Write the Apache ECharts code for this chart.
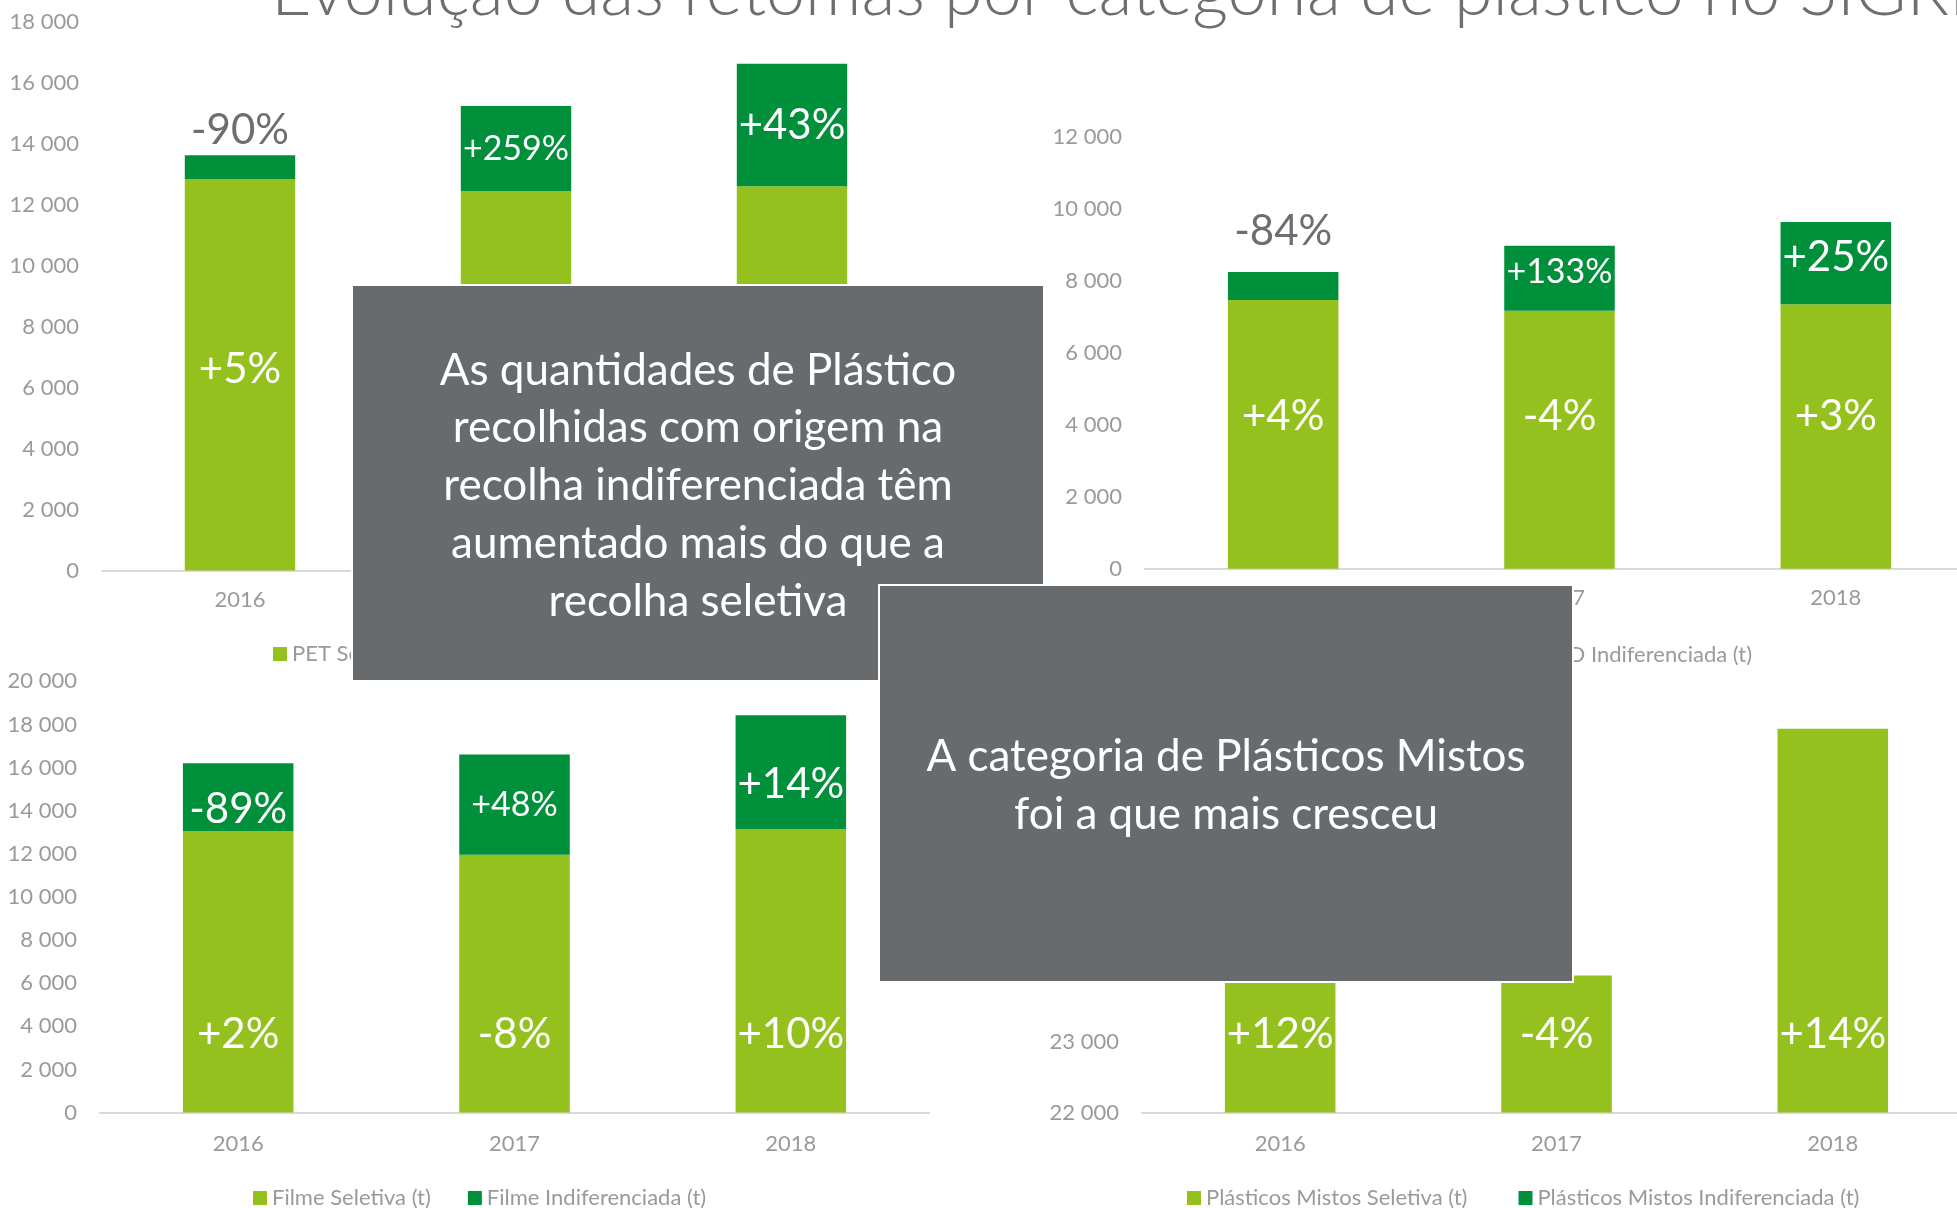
<!DOCTYPE html>
<html>
<head>
<meta charset="utf-8">
<title>Evolução das retomas por categoria de plástico</title>
<script src="https://cdn.jsdelivr.net/npm/echarts@6/dist/echarts.min.js"></script>
<style>
  html, body { margin: 0; padding: 0; background: #fff; overflow: hidden; }
  /* um pouco mais largo que a janela: o grafico da direita passa a borda */
  #main { width: 1990px; height: 1208px; }
</style>
</head>
<body>
<div id="main"></div>
<script>
// anos (eixo x)
var years = ['2016', '2017', '2018'];

// quantidades (t)
var petSel = [12850, 12450, 12610];
var petInd = [775, 2795, 4020];
var peadSel = [7470, 7170, 7350];
var peadInd = [775, 1810, 2285];
var filmeSel = [13050, 11960, 13150];
var filmeInd = [3150, 4650, 5280];
var mistosSel = [24900, 23930, 27400];
var mistosInd = [0, 0, 0];   // nao se ve no grafico

// variacoes (rotulos)
var petSelPct = ['+5%', '-3%', '+1%'];
var petIndPct = ['-90%', '+259%', '+43%'];
var peadSelPct = ['+4%', '-4%', '+3%'];
var peadIndPct = ['-84%', '+133%', '+25%'];
var filmeSelPct = ['+2%', '-8%', '+10%'];
var filmeIndPct = ['-89%', '+48%', '+14%'];
var mistosSelPct = ['+12%', '-4%', '+14%'];
var mistosIndPct = ['', '', ''];

// eixos y
var yTicks = [
    {min: 0, max: 18000, interval: 2000},
    {min: 0, max: 12000, interval: 2000},
    {min: 0, max: 20000, interval: 2000},
    {min: 22000, max: 28000, interval: 1000}
];

var LIGHT = '#95C11F';
var DARK = '#008F3B';
var GREY = '#9A9A9A';
var FONT = 'Lato, "Open Sans", sans-serif';

var chart = echarts.init(document.getElementById('main'));

function fmt(v) {
    return String(v).replace(/\B(?=(\d{3})+(?!\d))/g, ' ');
}

// cria os dados com rotulos por ponto
function items(values, labels, opts) {
    opts = opts || {};
    return values.map(function (v, i) {
        var lab = {formatter: labels[i]};
        if (opts.small && opts.small.indexOf(i) >= 0) {
            lab.fontSize = 34;
            lab.lineHeight = 34;
        }
        if (opts.outside && opts.outside.indexOf(i) >= 0) {
            lab.position = 'top';
            lab.distance = opts.outDist || 4;
            lab.color = '#6D6E71';
        }
        if (opts.shift && opts.shift.indexOf(i) >= 0) {
            lab.offset = [0, opts.shiftBy];
        }
        return {value: v, label: lab};
    });
}

function selSeries(name, idx, values, labels, dist) {
    return {
        name: name, type: 'bar', stack: 's' + idx,
        xAxisIndex: idx, yAxisIndex: idx,
        barWidth: '40%',
        itemStyle: {color: LIGHT},
        label: {
            show: true, position: 'insideBottom', distance: dist,
            color: '#fff', fontSize: 42, lineHeight: 42, fontFamily: FONT
        },
        data: items(values, labels)
    };
}

function indSeries(name, idx, values, labels, opts) {
    return {
        name: name, type: 'bar', stack: 's' + idx,
        xAxisIndex: idx, yAxisIndex: idx,
        barWidth: '40%',
        itemStyle: {color: DARK},
        label: {
            show: true, position: 'inside',
            color: '#fff', fontSize: 42, lineHeight: 42, fontFamily: FONT
        },
        data: items(values, labels, opts)
    };
}

var grids = [
    {left: 102, top: 22, width: 828, height: 548.5},
    {left: 1145, top: 137, width: 829, height: 431.8},
    {left: 100, top: 681.3, width: 829, height: 431.3},
    {left: 1142, top: 686, width: 829, height: 426.6}
];

function legend(pos, names, gap) {
    return Object.assign({
        data: names,
        itemWidth: 14, itemHeight: 14, itemGap: gap, icon: 'rect',
        textStyle: {color: GREY, fontSize: 22, fontFamily: FONT},
        selectedMode: false
    }, pos);
}

var option = {
    animation: false,
    backgroundColor: '#fff',
    grid: grids,
    xAxis: grids.map(function (g, i) {
        return {
            type: 'category', gridIndex: i, data: years,
            axisLine: {lineStyle: {color: '#D9D9D9', width: 2}},
            axisTick: {show: false},
            axisLabel: {color: GREY, fontSize: 22, fontFamily: FONT, margin: i < 2 ? 18 : 20}
        };
    }),
    yAxis: yTicks.map(function (t, i) {
        return {
            type: 'value', gridIndex: i, min: t.min, max: t.max, interval: t.interval,
            axisLine: {show: false}, axisTick: {show: false},
            splitLine: {show: false},
            axisLabel: {color: GREY, fontSize: 22, fontFamily: FONT, margin: 23, formatter: fmt}
        };
    }),
    legend: [
        legend({left: 268, top: 638}, ['PET Seletiva (t)', 'PET Indiferenciada (t)'], 40),
        legend({right: 233, top: 639}, ['PEAD Seletiva (t)', 'PEAD Indiferenciada (t)'], 40),
        legend({left: 248, top: 1182}, ['Filme Seletiva (t)', 'Filme Indiferenciada (t)'], 37),
        legend({left: 1182, top: 1182}, ['Plásticos Mistos Seletiva (t)', 'Plásticos Mistos Indiferenciada (t)'], 51)
    ],
    series: [
        selSeries('PET Seletiva (t)', 0, petSel, petSelPct, 180),
        indSeries('PET Indiferenciada (t)', 0, petInd, petIndPct, {small: [1], outside: [0], outDist: 4}),
        selSeries('PEAD Seletiva (t)', 1, peadSel, peadSelPct, 131),
        indSeries('PEAD Indiferenciada (t)', 1, peadInd, peadIndPct, {small: [1], outside: [0], outDist: 20, shift: [1, 2], shiftBy: -6}),
        selSeries('Filme Seletiva (t)', 2, filmeSel, filmeSelPct, 57),
        indSeries('Filme Indiferenciada (t)', 2, filmeInd, filmeIndPct, {small: [1], shift: [0, 2], shiftBy: 12}),
        selSeries('Plásticos Mistos Seletiva (t)', 3, mistosSel, mistosSelPct, 57),
        indSeries('Plásticos Mistos Indiferenciada (t)', 3, mistosInd, mistosIndPct)
    ],
    graphic: [
        {
            type: 'text', z: 100, left: 271, top: -43,
            style: {
                text: 'Evolução das retomas por categoria de plástico no SIGRE',
                fill: '#6D6E71', font: '300 70px ' + FONT
            }
        },
        {
            type: 'group', z: 100, left: 351, top: 284,
            children: [
                {
                    type: 'rect', z: 100,
                    shape: {x: 0, y: 0, width: 692, height: 396},
                    style: {fill: '#676B6E', stroke: '#fff', lineWidth: 2}
                },
                {
                    type: 'text', z: 101, x: 346, y: 201,
                    style: {
                        text: 'As quantidades de Plástico\nrecolhidas com origem na\nrecolha indiferenciada têm\naumentado mais do que a\nrecolha seletiva',
                        fill: '#fff', font: '44px ' + FONT, lineHeight: 57.7,
                        align: 'center', verticalAlign: 'middle'
                    }
                }
            ]
        },
        {
            type: 'group', z: 100, left: 878, top: 584,
            children: [
                {
                    type: 'rect', z: 100,
                    shape: {x: 0, y: 0, width: 694, height: 397},
                    style: {fill: '#676B6E', stroke: '#fff', lineWidth: 2}
                },
                {
                    type: 'text', z: 101, x: 347, y: 201,
                    style: {
                        text: 'A categoria de Plásticos Mistos\nfoi a que mais cresceu',
                        fill: '#fff', font: '44px ' + FONT, lineHeight: 57.7,
                        align: 'center', verticalAlign: 'middle'
                    }
                }
            ]
        }
    ]
};

chart.setOption(option);
</script>
</body>
</html>
